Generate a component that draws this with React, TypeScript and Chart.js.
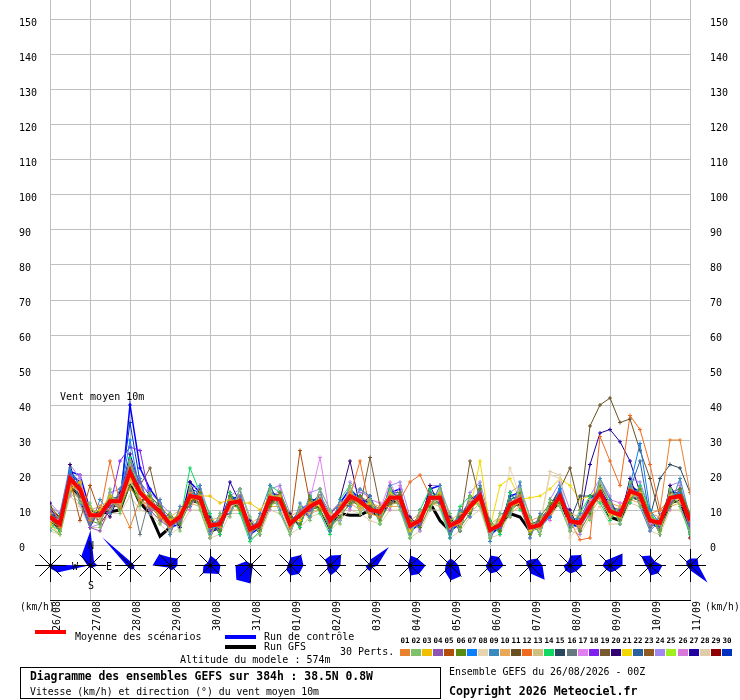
import { useEffect, useRef } from "react";
import { Chart, registerables } from "chart.js";

Chart.register(...registerables);

const FONT = '"DejaVu Sans Mono", "Liberation Mono", monospace';

// Tick labels (one per day, every 4 steps of 6 h)
const DATES = ["26/08", "27/08", "28/08", "29/08", "30/08", "31/08", "01/09", "02/09", "03/09", "04/09", "05/09", "06/09", "07/09", "08/09", "09/09", "10/09", "11/09"];

// Mean, control run and GFS run (km/h, every 6 h)
const MEAN = [8, 6, 19, 16, 8.5, 8.5, 12.5, 12.5, 21, 15, 12, 9.5, 6, 8, 14, 13.5, 5.5, 6, 12, 12.5, 4.5, 6, 13.5, 13, 6, 8.5, 11, 12.5, 7, 10, 14, 12.5, 10, 9.5, 13.5, 13.5, 5.5, 7, 13.5, 13.5, 5.5, 7, 11, 14, 4.3, 5.7, 11.5, 13, 5, 5.7, 9.6, 14, 6.8, 6.3, 11, 15, 9.6, 8.6, 15.4, 14.3, 7, 6.3, 13.4, 14, 7];
const CONTROL = [10, 8, 21, 20, 10, 8, 14, 11, 40, 22, 16, 12, 5, 6, 18, 15, 4, 5, 13, 14, 3, 5, 15, 14, 6, 10, 12, 14, 9, 12, 16, 13, 12, 10, 15, 16, 4, 6, 16, 17, 4, 6, 12, 15, 3, 5, 14, 15, 4, 5, 11, 16, 6, 5, 13, 16, 11, 9, 17, 15, 6, 5, 13, 15, 5];
const GFS = [7, 5, 17, 14, 9, 9, 9.5, 10, 18, 12, 9, 2.5, 5, 9, 13, 12, 4, 5, 12, 11, 4, 7, 12, 14, 5, 9, 10, 13, 6, 9, 8.5, 8.5, 10, 8, 13, 12, 4, 8, 12, 7, 4, 8, 11, 13, 3, 6, 9, 8, 4, 6, 9, 13, 6, 6, 11, 14, 8, 7, 14, 13, 6, 6, 12, 13, 6];

// 30 perturbations
const P01 = [9, 5, 18, 15, 7, 9, 13, 11, 5, 13, 11, 8, 5, 9, 15, 12, 6, 5, 13, 11, 4, 7, 14, 12, 5, 9, 12, 13, 6, 11, 15, 13, 9, 8, 14, 12, 6, 8, 12, 14, 5, 6, 12, 13, 4, 6, 12, 14, 6, 5, 10, 13, 7, 5, 12, 14, 10, 9, 16, 13, 9, 10, 30, 30, 15];
const P02 = [5, 3, 15, 12, 12, 5, 16, 9, 24, 11, 15, 6, 9, 4, 17, 10, 2, 9, 8, 16, 8, 3, 16, 9, 3, 11, 7, 16, 10, 6, 17, 9, 13, 6, 16, 10, 2, 10, 10, 16, 9, 4, 14, 11, 2, 9, 8, 16, 8, 3, 13, 11, 4, 10, 7, 18, 12, 6, 18, 11, 9, 3, 16, 11, 4];
const P03 = [6, 3, 16, 18, 9, 10, 14, 12, 19, 16, 13, 8, 7, 9, 13, 14, 14, 12, 13, 12, 12, 10, 14, 14, 7, 7, 12, 11, 7, 10, 15, 11, 12, 10, 15, 13, 4, 7, 13, 15, 5, 7, 10, 13, 5, 7, 11, 12, 4, 5, 9, 13, 7, 6, 11, 16, 9, 8, 14, 15, 8, 6, 14, 13, 7];
const P04 = [10, 7, 20, 16, 5, 4, 11, 14, 24, 18, 10, 7, 5, 7, 14, 14, 6, 7, 12, 14, 5, 7, 13, 14, 5, 10, 10, 12, 8, 10, 14, 13, 9, 10, 14, 12, 5, 6, 14, 13, 5, 7, 12, 15, 4, 5, 12, 14, 5, 6, 10, 14, 6, 7, 10, 15, 10, 8, 16, 15, 7, 6, 12, 14, 5];
const P05 = [8, 5, 19, 7, 17, 9, 12, 14, 22, 16, 13, 10, 6, 7, 13, 13, 5, 6, 12, 13, 4, 5, 14, 13, 5, 27, 12, 13, 6, 10, 13, 12, 10, 9, 14, 14, 5, 7, 13, 14, 5, 7, 11, 14, 4, 6, 11, 12, 5, 6, 10, 14, 7, 7, 11, 15, 9, 9, 15, 14, 7, 7, 14, 14, 7];
const P06 = [11, 8, 15, 18, 7, 6, 14, 10, 17, 12, 14, 11, 8, 6, 12, 15, 7, 4, 14, 10, 6, 4, 11, 15, 8, 6, 13, 10, 5, 8, 12, 14, 12, 7, 12, 15, 7, 5, 11, 15, 7, 5, 9, 16, 6, 4, 10, 15, 3, 8, 12, 12, 9, 4, 9, 17, 12, 7, 13, 16, 9, 4, 11, 16, 9];
const P07 = [9, 6, 21, 17, 7, 9, 12, 13, 30, 15, 11, 9, 5, 8, 15, 14, 5, 5, 12, 12, 4, 6, 14, 13, 6, 8, 12, 13, 7, 11, 14, 13, 10, 9, 14, 14, 5, 8, 13, 13, 6, 7, 11, 14, 4, 5, 11, 14, 4, 5, 8, 16, 8, 7, 12, 16, 10, 8, 17, 29, 10, 6, 14, 15, 6];
const P08 = [8, 7, 17, 15, 8, 8, 12, 12, 18, 14, 12, 9, 7, 8, 13, 13, 5, 6, 11, 12, 5, 6, 13, 13, 6, 8, 11, 12, 7, 9, 13, 12, 10, 9, 13, 13, 6, 7, 12, 13, 5, 7, 10, 13, 5, 8, 22, 14, 5, 6, 20, 19, 2, 6, 10, 14, 9, 8, 14, 14, 7, 6, 13, 13, 7];
const P09 = [4, 9, 22, 12, 5, 13, 9, 16, 22, 19, 9, 13, 3, 11, 11, 17, 3, 9, 9, 16, 2, 9, 17, 10, 3, 12, 8, 16, 4, 13, 11, 16, 14, 7, 17, 11, 3, 10, 11, 17, 2, 10, 8, 17, 1, 9, 9, 18, 2, 9, 8, 17, 4, 9, 9, 19, 13, 6, 18, 11, 4, 7, 11, 19, 8];
const P10 = [11, 7, 16, 13, 10, 11, 10, 14, 16, 13, 10, 7, 8, 10, 12, 11, 7, 8, 10, 10, 6, 8, 11, 11, 8, 10, 9, 10, 9, 12, 12, 10, 12, 11, 11, 11, 7, 9, 12, 11, 7, 9, 9, 12, 6, 8, 9, 11, 7, 8, 8, 12, 9, 8, 9, 13, 12, 11, 13, 12, 9, 8, 11, 12, 9];
const P11 = [9, 7, 17, 14, 10, 9, 11, 13, 20, 13, 13, 10, 7, 9, 13, 12, 6, 7, 11, 13, 5, 7, 12, 14, 7, 9, 10, 11, 8, 9, 13, 12, 11, 8, 14, 12, 6, 8, 12, 13, 6, 8, 12, 13, 5, 5, 12, 11, 6, 7, 11, 16, 22, 10, 34, 40, 42, 35, 36, 27, 19, 8, 15, 14, 8];
const P12 = [8, 6, 18, 16, 8, 9, 24, 12, 18, 14, 12, 9, 6, 8, 14, 13, 5, 6, 12, 13, 4, 6, 13, 13, 6, 8, 11, 12, 7, 10, 14, 24, 10, 9, 13, 13, 18, 20, 14, 13, 5, 7, 11, 14, 4, 6, 11, 13, 5, 6, 10, 14, 7, 1.5, 2, 31, 24, 17, 37, 33, 23, 10, 13, 14, 6];
const P13 = [6, 8, 16, 17, 10, 7, 14, 10, 18, 17, 10, 11, 4, 10, 12, 15, 3, 8, 10, 14, 6, 4, 15, 11, 4, 10, 9, 14, 9, 8, 16, 10, 12, 7, 15, 11, 3, 9, 11, 15, 7, 5, 13, 12, 2, 8, 9, 15, 7, 4, 12, 12, 9, 4, 13, 13, 8, 11, 13, 16, 9, 4, 15, 12, 9];
const P14 = [6, 4, 18, 16, 8, 9, 13, 12, 25, 15, 12, 10, 6, 7, 22, 15, 9, 3, 15, 9, 1, 4, 17, 15, 8, 5, 14, 9, 3, 13, 17, 10, 13, 6, 16, 11, 2, 10, 16, 11, 2, 11, 14, 11, 7, 3, 15, 10, 8, 3, 13, 11, 4, 9, 14, 12, 7, 11, 12, 17, 10, 4, 16, 11, 3];
const P15 = [9, 7, 20, 16, 8, 8, 13, 13, 21, 15, 12, 10, 6, 8, 14, 14, 6, 6, 12, 12, 5, 6, 14, 13, 6, 9, 11, 13, 7, 10, 14, 13, 10, 10, 14, 14, 6, 7, 14, 14, 5, 7, 11, 14, 4, 6, 12, 13, 5, 6, 10, 14, 7, 14, 14, 14, 10, 9, 15, 14, 8, 19, 23, 22, 15];
const P16 = [10, 4, 21, 14, 6, 10, 10, 14, 16, 3, 14, 7, 8, 6, 16, 11, 7, 4, 14, 10, 2, 8, 11, 15, 8, 6, 13, 10, 5, 12, 12, 14, 8, 11, 11, 15, 7, 5, 15, 11, 3, 9, 9, 16, 6, 4, 13, 11, 3, 8, 8, 16, 5, 8, 9, 17, 12, 7, 17, 12, 5, 8, 11, 16, 5];
const P17 = [7, 7, 17, 18, 10, 6, 14, 11, 23, 13, 10, 11, 5, 9, 12, 15, 6, 7, 10, 14, 3, 7, 15, 12, 5, 9, 13, 25, 8, 9, 16, 11, 9, 10, 18, 12, 4, 8, 12, 15, 6, 6, 13, 13, 3, 7, 10, 14, 4, 7, 11, 13, 6, 7, 13, 14, 11, 8, 13, 15, 6, 7, 12, 15, 8];
const P18 = [9, 5, 20, 15, 7, 9, 11, 24, 28, 27, 13, 8, 7, 7, 15, 12, 4, 5, 13, 11, 5, 5, 12, 14, 7, 7, 10, 13, 6, 11, 13, 14, 11, 8, 12, 14, 6, 6, 14, 12, 4, 8, 10, 15, 5, 5, 12, 12, 6, 5, 9, 15, 8, 5, 10, 16, 9, 10, 14, 13, 8, 5, 14, 13, 6];
const P19 = [8, 7, 18, 17, 9, 7, 13, 11, 20, 17, 22, 10, 6, 9, 13, 14, 5, 7, 11, 13, 5, 7, 12, 14, 6, 9, 10, 13, 7, 9, 13, 11, 25, 11, 12, 14, 5, 8, 12, 14, 5, 6, 24, 13, 4, 7, 10, 14, 5, 7, 9, 15, 7, 7, 10, 16, 10, 10, 14, 15, 7, 7, 12, 15, 7];
const P20 = [12, 4, 23, 13, 5, 11, 8, 15, 24, 12, 15, 7, 9, 5, 18, 11, 8, 3, 15, 10, 7, 3, 17, 11, 9, 5, 14, 10, 4, 13, 24, 11, 14, 7, 17, 11, 8, 5, 17, 11, 8, 4, 14, 12, 7, 4, 15, 11, 8, 3, 13, 12, 10, 4, 14, 13, 13, 7, 19, 12, 9, 3, 17, 12, 4];
const P21 = [7, 5, 18, 17, 9, 9, 11, 13, 20, 16, 11, 10, 5, 9, 13, 14, 6, 7, 11, 13, 4, 7, 12, 14, 5, 9, 10, 13, 8, 9, 13, 13, 9, 10, 12, 14, 4, 8, 12, 14, 6, 7, 10, 24, 5, 17, 19, 13, 13.5, 14, 16, 19, 17, 13, 14, 16, 9, 10, 14, 15, 8, 7, 12, 15, 8];
const P22 = [10, 7, 21, 17, 7, 10, 13, 14, 22, 16, 11, 10, 5, 9, 15, 14, 6, 7, 12, 14, 5, 7, 15, 14, 6, 9, 12, 13, 6, 11, 15, 13, 11, 9, 15, 15, 6, 8, 15, 14, 5, 8, 12, 15, 3, 6, 13, 14, 4, 6, 11, 16, 7, 7, 14, 15, 11, 10, 16, 24, 8, 7, 15, 16, 8];
const P23 = [7, 4, 17, 14, 7, 10, 11, 11, 18, 16, 11, 8, 5, 9, 13, 12, 4, 7, 11, 11, 3, 7, 12, 12, 5, 9, 10, 11, 6, 11, 13, 11, 9, 10, 12, 12, 4, 8, 12, 12, 4, 8, 10, 13, 3, 7, 10, 12, 4, 7, 9, 13, 6, 7, 11, 14, 8, 10, 15, 13, 6, 7, 13, 13, 6];
const P24 = [12, 9, 23, 19, 5, 6, 15, 16, 24, 17, 15, 12, 9, 5, 16, 17, 8, 3, 14, 16, 7, 3, 16, 17, 9, 5, 15, 16, 10, 7, 18, 15, 14, 7, 17, 18, 8, 4, 17, 17, 8, 4, 15, 18, 7, 3, 15, 17, 8, 3, 13, 18, 10, 3, 14, 19, 14, 6, 19, 18, 10, 3, 17, 18, 3];
const P25 = [5, 8, 16, 13, 11, 8, 13, 10, 19, 12, 12, 9, 4, 10, 14, 11, 3, 8, 12, 10, 3, 8, 11, 13, 4, 10, 11, 10, 5, 12, 12, 12, 8, 11, 11, 13, 3, 9, 11, 13, 3, 9, 11, 12, 2, 8, 9, 13, 3, 8, 8, 14, 5, 8, 9, 15, 8, 11, 13, 14, 5, 8, 11, 14, 5];
const P26 = [11, 9, 14, 20, 5, 10, 9, 16, 18, 19, 9, 13, 3, 11, 10, 17, 2, 9, 9, 16, 2, 9, 10, 17, 3, 11, 8, 16, 4, 13, 10, 16, 13, 12, 10, 17, 3, 10, 10, 17, 3, 10, 8, 17, 2, 9, 8, 17, 2, 9, 7, 17, 4, 9, 8, 18, 13, 12, 12, 17, 4, 9, 10, 17, 8];
const P27 = [8, 7, 20, 18, 9, 8, 12, 14, 26, 17, 12, 9, 6, 8, 16, 13, 5, 6, 18, 12, 4, 7, 14, 13, 6, 8, 12, 12, 7, 10, 15, 12, 10, 9, 14, 13, 5, 7, 14, 13, 5, 7, 12, 14, 4, 6, 12, 13, 5, 6, 10, 14, 7, 8, 23, 32, 33, 29.5, 24, 15, 8, 6, 13, 14, 7];
const P28 = [4, 3, 14, 11, 5, 5, 9, 9, 14, 10, 9, 6, 3, 5, 10, 10, 2, 3, 9, 9, 2, 3, 10, 9, 3, 5, 8, 9, 4, 7, 10, 9, 7, 6, 10, 10, 2, 4, 10, 10, 2, 4, 8, 10, 2, 3, 9, 15, 6, 6, 21, 20, 4, 3, 8, 11, 6, 6, 12, 11, 4, 3, 10, 10, 4];
const P29 = [10, 8, 16, 13, 11, 6, 10, 15, 23, 13, 9, 12, 3, 10, 11, 16, 2, 8, 9, 14, 2, 8, 11, 15, 4, 10, 8, 14, 5, 12, 11, 14, 8, 11, 11, 15, 3, 9, 11, 15, 3, 9, 9, 16, 2, 8, 9, 15, 3, 8, 8, 16, 5, 8, 9, 17, 8, 11, 13, 16, 5, 8, 11, 16, 2];
const P30 = [9, 8, 21, 18, 6, 10, 13, 14, 35, 18, 14, 11, 4, 9, 16, 15, 4, 7, 14, 13, 5, 7, 15, 14, 5, 9, 13, 13, 6, 11, 15, 13, 9, 10, 15, 14, 4, 8, 15, 14, 4, 8, 13, 15, 3, 7, 13, 14, 4, 7, 11, 15, 6, 7, 13, 16, 9, 10, 16, 15, 6, 7, 15, 15, 6];

const PERTS = [P01, P02, P03, P04, P05, P06, P07, P08, P09, P10, P11, P12, P13, P14, P15, P16, P17, P18, P19, P20, P21, P22, P23, P24, P25, P26, P27, P28, P29, P30];
const PERT_COLORS = ["#E8822E", "#7FC06A", "#F0C000", "#8E55B0", "#B04E0A", "#5A8A10", "#0A80FF", "#E8D4B0", "#3A8AC0", "#E8A858", "#6A5020", "#F06A20", "#D0C080", "#10D860", "#284860", "#687880", "#E080F0", "#8020F0", "#785A30", "#300070", "#F0D800", "#2860A0", "#905A20", "#A088F0", "#A0F020", "#D878D8", "#2000A0", "#E0CCA8", "#900000", "#0030C0"];

// Daily wind roses: frequency per direction [N, NE, E, SE, S, SW, W, NW]
const ROSES = [
  [1, 1, 38, 10, 3, 1, 1, 1],
  [35, 5, 7, 3, 3, 2, 3, 13],
  [4, 3, 4, 5, 4, 3, 4, 40],
  [8, 10, 7, 5, 5, 3, 18, 16],
  [10, 8, 10, 12, 8, 11, 7, 4],
  [2, 3, 3, 3, 18, 20, 15, 6],
  [8, 15, 13, 12, 10, 6, 3, 3],
  [10, 15, 10, 8, 10, 5, 3, 8],
  [6, 26, 7, 3, 6, 5, 5, 2],
  [10, 10, 15, 12, 10, 3, 3, 3],
  [7, 6, 8, 15, 15, 8, 5, 5],
  [10, 12, 13, 9, 8, 5, 5, 4],
  [6, 10, 12, 20, 8, 3, 4, 6],
  [10, 15, 12, 8, 8, 7, 7, 4],
  [7, 17, 12, 7, 7, 6, 8, 7],
  [10, 6, 12, 11, 10, 4, 5, 13],
  [7, 10, 8, 24, 5, 3, 4, 6],
];

const STEPS_PER_DAY = 4;
const Y_MIN = -15.7142857;
const Y_MAX = 155.7142857;
const ROSE_LEVEL = -5.7142857;

const toPts = (arr: number[]) => arr.map((y, i) => ({ x: i, y }));

const keepTens = (s: any) => {
  s.ticks = s.ticks.filter((t: any) => t.value >= 0 && Math.abs(t.value % 10) < 1e-6);
};

function txt(ctx: CanvasRenderingContext2D, s: string, x: number, y: number, size: number, bold = false, align: CanvasTextAlign = "left") {
  ctx.font = `${bold ? "bold " : ""}${size}px ${FONT}`;
  ctx.textAlign = align;
  ctx.textBaseline = "middle";
  ctx.fillStyle = "#000";
  ctx.fillText(s, x, y);
}

const overlay = {
  id: "overlay",
  afterDatasetsDraw(chart: any) {
    const ctx: CanvasRenderingContext2D = chart.ctx;
    const xs = chart.scales.x;
    const ys = chart.scales.y;
    const cy = Math.round(ys.getPixelForValue(ROSE_LEVEL));
    ctx.save();
    ROSES.forEach((r, d) => {
      const cx = Math.round(xs.getPixelForValue(d * STEPS_PER_DAY));
      ctx.beginPath();
      r.forEach((v, k) => {
        const a = (k * Math.PI) / 4;
        const px = cx + 0.5 + v * Math.sin(a);
        const py = cy + 0.5 - v * Math.cos(a);
        if (k === 0) ctx.moveTo(px, py);
        else ctx.lineTo(px, py);
      });
      ctx.closePath();
      ctx.fillStyle = "#0000FF";
      ctx.fill();
      ctx.strokeStyle = "#000";
      ctx.lineWidth = 1;
      ctx.beginPath();
      ctx.moveTo(cx + 0.5, cy - 16);
      ctx.lineTo(cx + 0.5, cy + 17);
      ctx.moveTo(cx - 15, cy + 0.5);
      ctx.lineTo(cx + 16, cy + 0.5);
      ctx.moveTo(cx - 10.5, cy - 10.5);
      ctx.lineTo(cx + 11.5, cy + 11.5);
      ctx.moveTo(cx + 11.5, cy - 10.5);
      ctx.lineTo(cx - 10.5, cy + 11.5);
      ctx.stroke();
      ctx.beginPath();
      ctx.arc(cx + 0.5, cy + 0.5, 2, 0, Math.PI * 2);
      ctx.fillStyle = "#000";
      ctx.fill();
    });
    const c1 = Math.round(xs.getPixelForValue(STEPS_PER_DAY));
    txt(ctx, "N", c1 + 1, cy - 19, 10, false, "center");
    txt(ctx, "E", c1 + 19, cy + 2, 10, false, "center");
    txt(ctx, "W", c1 - 15, cy + 2, 10, false, "center");
    txt(ctx, "S", c1 + 1, cy + 21, 10, false, "center");
    ctx.restore();
  },
  afterDraw(chart: any) {
    const ctx: CanvasRenderingContext2D = chart.ctx;
    ctx.save();
    txt(ctx, "Vent moyen 10m", 60, 397, 10);
    txt(ctx, "(km/h)", 20, 607, 9.6);
    txt(ctx, "(km/h)", 705, 607, 9.6);

    ctx.fillStyle = "#FF0000";
    ctx.fillRect(35, 630, 31, 4);
    txt(ctx, "Moyenne des scénarios", 75, 637.5, 10);
    ctx.fillStyle = "#0000FF";
    ctx.fillRect(225, 635, 31, 4);
    txt(ctx, "Run de contrôle", 264, 637.5, 10);
    ctx.fillStyle = "#000";
    ctx.fillRect(225, 645, 31, 4);
    txt(ctx, "Run GFS", 264, 647, 10);
    txt(ctx, "30 Perts.", 340, 652, 10);
    txt(ctx, "Altitude du modele : 574m", 180, 660.5, 10);

    PERT_COLORS.forEach((col, i) => {
      const bx = 400 + i * 11.1;
      ctx.fillStyle = col;
      ctx.fillRect(Math.round(bx), 649, 10, 7);
      txt(ctx, String(i + 1).padStart(2, "0"), Math.round(bx) + 5, 641.5, 7.5, true, "center");
    });

    ctx.strokeStyle = "#000";
    ctx.lineWidth = 1;
    ctx.strokeRect(20.5, 667.5, 420, 31);
    txt(ctx, "Diagramme des ensembles GEFS sur 384h : 38.5N 0.8W", 30, 677.5, 11.4, true);
    txt(ctx, "Vitesse (km/h) et direction (°) du vent moyen 10m", 30, 692, 9.8);
    txt(ctx, "Ensemble GEFS du 26/08/2026 - 00Z", 449, 672, 9.9);
    txt(ctx, "Copyright 2026 Meteociel.fr", 449, 692, 11.6, true);

    const bad = [MEAN, CONTROL, GFS, ...PERTS].map((a, i) => (a.length !== 65 ? `${i}:${a.length}` : "")).filter(Boolean);
    if (bad.length) txt(ctx, "LEN " + bad.join(" "), 200, 100, 14, true);
    ctx.restore();
  },
};

export default function App() {
  const ref = useRef<HTMLCanvasElement>(null);
  useEffect(() => {
    if (!ref.current) return;
    const tickFont = { family: FONT, size: 10 };
    const datasets: any[] = [
      { label: "Moyenne", data: toPts(MEAN), borderColor: "#FF0000", borderWidth: 4, pointRadius: 0, order: 0 },
      ...PERTS.map((p, i) => ({
        label: "P" + (i + 1),
        data: toPts(p),
        borderColor: PERT_COLORS[i],
        borderWidth: 1,
        pointStyle: "cross",
        pointRadius: 2,
        pointBorderColor: PERT_COLORS[i],
        pointBorderWidth: 1,
        order: 2,
      })),
      { label: "Controle", data: toPts(CONTROL), borderColor: "#0000FF", borderWidth: 1.5, pointStyle: "cross", pointRadius: 2, pointBorderColor: "#0000FF", pointBorderWidth: 1, order: 2.5 },
      { label: "GFS", data: toPts(GFS), borderColor: "#000000", borderWidth: 3, pointRadius: 0, order: 3 },
    ];
    const chart = new Chart(ref.current, {
      type: "line",
      data: { datasets },
      options: {
        animation: false,
        responsive: false,
        events: [],
        layout: { padding: { left: 19, right: 0, top: 0, bottom: 0 }, autoPadding: false },
        elements: { line: { tension: 0 } },
        plugins: { legend: { display: false }, tooltip: { enabled: false }, title: { display: false } },
        scales: {
          x: {
            type: "linear",
            position: "bottom",
            min: 0,
            max: 64,
            afterFit: (s: any) => {
              s.height = 100;
              s.paddingLeft = 0;
              s.paddingRight = 0;
            },
            grid: { color: "#C0C0C0", lineWidth: 1, drawTicks: false },
            border: { display: true, color: "#000", width: 1 },
            ticks: {
              stepSize: STEPS_PER_DAY,
              maxTicksLimit: 40,
              autoSkip: false,
              minRotation: 90,
              maxRotation: 90,
              padding: 1,
              labelOffset: 7,
              color: "#000",
              font: tickFont,
              callback: (v: any) => DATES[Math.round(Number(v) / STEPS_PER_DAY)] ?? "",
            },
          },
          y: {
            type: "linear",
            position: "left",
            min: Y_MIN,
            max: Y_MAX,
            afterBuildTicks: keepTens,
            afterFit: (s: any) => {
              s.width = 31;
              s.paddingTop = 0;
              s.paddingBottom = 0;
            },
            grid: { color: "#C0C0C0", lineWidth: 1, drawTicks: false },
            border: { display: false },
            ticks: { stepSize: 10, maxTicksLimit: 40, crossAlign: "far", labelOffset: 3, padding: 0, color: "#000", font: tickFont },
          },
          y2: {
            type: "linear",
            position: "right",
            min: Y_MIN,
            max: Y_MAX,
            afterBuildTicks: keepTens,
            afterFit: (s: any) => {
              s.width = 50;
              s.paddingTop = 0;
              s.paddingBottom = 0;
            },
            grid: { display: false, drawTicks: false },
            border: { display: false },
            ticks: { stepSize: 10, maxTicksLimit: 40, labelOffset: 3, padding: 20, color: "#000", font: tickFont },
          },
        },
      } as any,
      plugins: [overlay],
    });
    return () => chart.destroy();
  }, []);
  return (
    <div style={{ position: "absolute", left: 0, top: 0, width: 740, height: 700, background: "#fff" }}>
      <canvas ref={ref} width={740} height={700} style={{ width: "740px", height: "700px", display: "block" }} />
    </div>
  );
}
